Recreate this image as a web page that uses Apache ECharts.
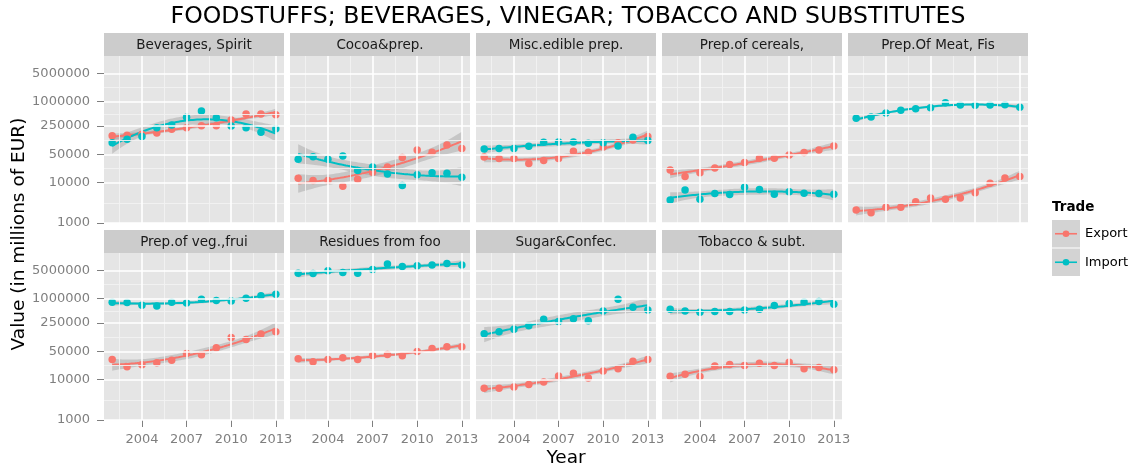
<!DOCTYPE html>
<html>
<head>
<meta charset="utf-8">
<script src="https://cdn.jsdelivr.net/npm/echarts@6/dist/echarts.min.js"></script>
<style>
  html, body { margin: 0; padding: 0; background: #ffffff; }
  #chart { width: 1136px; height: 472px; }
</style>
</head>
<body>
<div id="chart"></div>
<script>
// ---- data -------------------------------------------------------------
const years = [2002, 2003, 2004, 2005, 2006, 2007, 2008, 2009, 2010, 2011, 2012, 2013];
const facetNames = [
  'Beverages, Spirit', 'Cocoa&prep.', 'Misc.edible prep.', 'Prep.of cereals,', 'Prep.Of Meat, Fis',
  'Prep.of veg.,frui', 'Residues from foo', 'Sugar&Confec.', 'Tobacco & subt.'
];
const tradeNames = ['Export', 'Import'];
const yTickValues = [1000, 10000, 50000, 250000, 1000000, 5000000];
const xTickValues = [2004, 2007, 2010, 2013];

const beveragesExport = [144500, 147600, 156000, 168000, 207000, 228000, 255000, 255000, 352000, 496000, 496000, 477000];
const beveragesImport = [97200, 117000, 137000, 228000, 265000, 410000, 589000, 403000, 251000, 228000, 175000, 215000];
const cocoaExport = [12800, 11200, 11200, 8100, 12100, 18000, 24400, 41400, 64100, 56100, 85100, 69200];
const cocoaImport = [37700, 43800, 37700, 45500, 19800, 24400, 16400, 8430, 15500, 17600, 17000, 13500];
const miscExport = [43100, 39200, 39200, 29500, 34900, 39200, 59400, 56100, 76000, 97200, 113000, 137000];
const miscImport = [67800, 69200, 69200, 78900, 99100, 101000, 101000, 93600, 97200, 80400, 132000, 109000];
const cerealsExport = [20500, 14100, 17600, 23000, 27800, 31200, 39900, 39900, 48200, 55100, 64100, 80400];
const cerealsImport = [3730, 6590, 3870, 5350, 5050, 7670, 6720, 5150, 5890, 5460, 5350, 5150];
const meatExport = [2110, 1780, 2460, 2460, 3330, 4180, 3870, 4180, 5560, 9630, 13000, 14100];
const meatImport = [387000, 418000, 525000, 611000, 672000, 711000, 945000, 828000, 812000, 828000, 844000, 725000];
const vegExport = [31400, 20600, 23100, 25900, 30200, 44200, 41000, 61100, 110000, 98400, 134000, 153000];
const vegImport = [817000, 802000, 689000, 663000, 817000, 787000, 971000, 899000, 882000, 1027000, 1175000, 1292000];
const residuesExport = [32600, 27500, 31400, 34500, 31400, 39400, 41800, 38700, 49600, 58900, 64700, 64700];
const residuesImport = [4285000, 4207000, 4900000, 4455000, 4285000, 5284000, 7175000, 6280000, 6525000, 6780000, 7460000, 6780000];
const sugarExport = [6100, 6100, 6580, 7520, 8750, 12300, 14400, 11000, 16400, 18400, 28500, 31400];
const sugarImport = [136000, 153000, 175000, 215000, 309000, 271000, 321000, 286000, 498000, 970000, 614000, 527000];
const tobaccoExport = [12100, 13600, 11900, 21800, 23600, 22300, 25500, 22300, 26900, 18400, 19900, 17400];
const tobaccoImport = [547000, 498000, 461000, 479000, 479000, 527000, 547000, 675000, 757000, 833000, 849000, 729000];

const exportByFacet = [beveragesExport, cocoaExport, miscExport, cerealsExport, meatExport,
  vegExport, residuesExport, sugarExport, tobaccoExport];
const importByFacet = [beveragesImport, cocoaImport, miscImport, cerealsImport, meatImport,
  vegImport, residuesImport, sugarImport, tobaccoImport];

// ---- look & layout ----------------------------------------------------
const FONT = '"DejaVu Sans", "Liberation Sans", sans-serif';
const tradeColors = ['#F8766D', '#00BFC4'];
const panelLefts = [104, 290, 476, 662, 848];
const rowTops = [56, 253];
const panelW = 180, panelH = 167, stripH = 23;
const xMin = 2001.45, xMax = 2013.55;
const logMin = 3, logMax = 7.13;

// ---- quadratic least-squares trend with 95% confidence band -----------
function inv3(m) {
  const [a, b, c] = m[0], [d, e, f] = m[1], [g, h, i] = m[2];
  const A = e * i - f * h, B = -(d * i - f * g), C = d * h - e * g;
  const det = a * A + b * B + c * C;
  return [
    [A / det, -(b * i - c * h) / det, (b * f - c * e) / det],
    [B / det, (a * i - c * g) / det, -(a * f - c * d) / det],
    [C / det, -(a * h - b * g) / det, (a * e - b * d) / det]
  ];
}
function tQuantile975(df) {
  const z = 1.959964;
  const z3 = z ** 3, z5 = z ** 5, z7 = z ** 7, z9 = z ** 9;
  const g1 = (z3 + z) / 4;
  const g2 = (5 * z5 + 16 * z3 + 3 * z) / 96;
  const g3 = (3 * z7 + 19 * z5 + 17 * z3 - 15 * z) / 384;
  const g4 = (79 * z9 + 776 * z7 + 1482 * z5 - 1920 * z3 - 945 * z) / 92160;
  return z + g1 / df + g2 / df ** 2 + g3 / df ** 3 + g4 / df ** 4;
}
function smoothFit(xs, ys, nOut = 80) {
  const n = xs.length;
  const xc = xs.reduce((s, x) => s + x, 0) / n;
  const basis = x => { const d = x - xc; return [1, d, d * d]; };
  const XtX = [[0, 0, 0], [0, 0, 0], [0, 0, 0]], Xty = [0, 0, 0];
  xs.forEach((x, k) => {
    const b = basis(x);
    for (let r = 0; r < 3; r++) {
      Xty[r] += b[r] * ys[k];
      for (let c = 0; c < 3; c++) XtX[r][c] += b[r] * b[c];
    }
  });
  const Inv = inv3(XtX);
  const coef = Inv.map(row => row[0] * Xty[0] + row[1] * Xty[1] + row[2] * Xty[2]);
  const predict = b => coef[0] * b[0] + coef[1] * b[1] + coef[2] * b[2];
  const rss = xs.reduce((s, x, k) => s + (ys[k] - predict(basis(x))) ** 2, 0);
  const df = n - 3;
  const sigma = Math.sqrt(rss / df);
  const tq = tQuantile975(df);
  const lo = Math.min(...xs), hi = Math.max(...xs);
  const out = [];
  for (let s = 0; s < nOut; s++) {
    const x0 = lo + (hi - lo) * s / (nOut - 1);
    const b = basis(x0);
    let q = 0;
    for (let r = 0; r < 3; r++) for (let c = 0; c < 3; c++) q += b[r] * Inv[r][c] * b[c];
    const fit = predict(b);
    const se = sigma * Math.sqrt(q);
    out.push([x0, fit, fit - tq * se, fit + tq * se]);
  }
  return out;
}

// ---- grid lines (major ticks + minor midpoints) -----------------------
function minorBreaks(ticks, lo, hi) {
  const step = ticks[1] - ticks[0];
  const b = ticks.slice();
  if (lo < b[0]) b.unshift(b[0] - step);
  if (hi > b[b.length - 1]) b.push(b[b.length - 1] + step);
  const out = [];
  for (let i = 0; i < b.length - 1; i++) {
    const m = (b[i] + b[i + 1]) / 2;
    if (m > lo && m < hi) out.push(m);
  }
  return out;
}
const yTickLogs = yTickValues.map(v => Math.log10(v));
const xMinor = minorBreaks(xTickValues, xMin, xMax);
const yMinor = minorBreaks(yTickLogs, logMin, logMax);
const minorStyle = { color: '#F2F2F2', width: 0.9, type: 'solid' };
const majorStyle = { color: '#FFFFFF', width: 1.6, type: 'solid' };
const gridLineData = [].concat(
  xMinor.map(v => ({ xAxis: v, lineStyle: minorStyle })),
  yMinor.map(v => ({ yAxis: v, lineStyle: minorStyle })),
  xTickValues.map(v => ({ xAxis: v, lineStyle: majorStyle })),
  yTickLogs.map(v => ({ yAxis: v, lineStyle: majorStyle }))
);

// ---- build panels -----------------------------------------------------
const grids = [], xAxes = [], yAxes = [], series = [], graphics = [];
const axisGrey = '#7F7F7F';

facetNames.forEach((name, k) => {
  const row = k < 5 ? 0 : 1;
  const col = k < 5 ? k : k - 5;
  const left = panelLefts[col], top = rowTops[row];
  const bottomRow = row === 1;
  const leftCol = col === 0;

  grids.push({
    left: left, top: top, width: panelW, height: panelH,
    show: true, backgroundColor: '#E5E5E5', borderWidth: 0, containLabel: false
  });
  xAxes.push({
    gridIndex: k, type: 'value', min: xMin, max: xMax,
    axisLine: { show: false },
    splitLine: { show: false },
    axisTick: { show: bottomRow, length: 7, lineStyle: { color: axisGrey, width: 1 }, customValues: xTickValues },
    axisLabel: {
      show: bottomRow, customValues: xTickValues, margin: 13,
      color: axisGrey, fontSize: 13, fontFamily: FONT,
      formatter: v => String(Math.round(v))
    }
  });
  yAxes.push({
    gridIndex: k, type: 'value', min: logMin, max: logMax,
    axisLine: { show: false },
    splitLine: { show: false },
    axisTick: { show: leftCol, length: 7, lineStyle: { color: axisGrey, width: 1 }, customValues: yTickLogs },
    axisLabel: {
      show: leftCol, customValues: yTickLogs, margin: 14,
      color: axisGrey, fontSize: 13, fontFamily: FONT,
      formatter: v => String(Math.round(Math.pow(10, v)))
    }
  });

  // background grid lines
  series.push({
    type: 'line', xAxisIndex: k, yAxisIndex: k, data: [], z: 1, silent: true,
    markLine: { silent: true, symbol: ['none', 'none'], label: { show: false }, animation: false, data: gridLineData }
  });

  const groups = [exportByFacet[k], importByFacet[k]];
  groups.forEach((vals, g) => {
    const logs = vals.map(v => Math.log10(v));
    const fit = smoothFit(years, logs);
    // confidence band
    series.push({
      type: 'custom', xAxisIndex: k, yAxisIndex: k, z: 2, silent: true, clip: true,
      data: fit.map(p => [p[0], p[2], p[3]]),
      encode: { x: 0, y: [1, 2] },
      renderItem: (params, api) => {
        if (params.dataIndex !== 0) return null;
        const pts = fit.map(p => api.coord([p[0], p[3]]))
          .concat(fit.slice().reverse().map(p => api.coord([p[0], p[2]])));
        return { type: 'polygon', shape: { points: pts }, style: { fill: 'rgba(153,153,153,0.4)' } };
      }
    });
    // fitted trend
    series.push({
      type: 'line', name: tradeNames[g], xAxisIndex: k, yAxisIndex: k, z: 3, silent: true,
      showSymbol: false, smooth: false,
      data: fit.map(p => [p[0], p[1]]),
      lineStyle: { color: tradeColors[g], width: 2 }
    });
    // observations
    series.push({
      type: 'scatter', name: tradeNames[g], xAxisIndex: k, yAxisIndex: k, z: 4,
      symbol: 'circle', symbolSize: 7.5,
      data: years.map((y, i) => [y, logs[i]]),
      itemStyle: { color: tradeColors[g], opacity: 1 }
    });
  });

  // facet strip
  graphics.push({
    type: 'rect', shape: { x: left, y: top - stripH, width: panelW, height: stripH },
    style: { fill: '#CCCCCC' }, silent: true
  });
  graphics.push({
    type: 'text', x: left + panelW / 2, y: top - stripH / 2 + 0.5, silent: true,
    style: { text: name, fill: '#1A1A1A', fontSize: 13.5, fontFamily: FONT, align: 'center', verticalAlign: 'middle' }
  });
});

// axis titles
graphics.push({
  type: 'text', x: 566, y: 458, silent: true,
  style: { text: 'Year', fill: '#000000', fontSize: 18.5, fontFamily: FONT, align: 'center', verticalAlign: 'middle' }
});
graphics.push({
  type: 'text', x: 19, y: 234, rotation: Math.PI / 2, silent: true,
  style: { text: 'Value (in millions of EUR)', fill: '#000000', fontSize: 18.5, fontFamily: FONT, align: 'center', verticalAlign: 'middle' }
});

// legend
graphics.push({
  type: 'text', x: 1052, y: 207, silent: true,
  style: { text: 'Trade', fill: '#000000', fontSize: 13.5, fontWeight: 'bold', fontFamily: FONT, align: 'left', verticalAlign: 'middle' }
});
tradeNames.forEach((t, g) => {
  const ky = 220 + g * 28.5;
  graphics.push({ type: 'rect', shape: { x: 1052, y: ky, width: 28, height: 27.5 }, style: { fill: '#D3D3D3' }, silent: true });
  graphics.push({ type: 'line', shape: { x1: 1055, y1: ky + 13.75, x2: 1077, y2: ky + 13.75 }, style: { stroke: tradeColors[g], lineWidth: 1.6 }, silent: true });
  graphics.push({ type: 'circle', shape: { cx: 1066, cy: ky + 13.75, r: 3.3 }, style: { fill: tradeColors[g] }, silent: true });
  graphics.push({
    type: 'text', x: 1085, y: ky + 14, silent: true,
    style: { text: t, fill: '#000000', fontSize: 13, fontFamily: FONT, align: 'left', verticalAlign: 'middle' }
  });
});

const chart = echarts.init(document.getElementById('chart'), null, { renderer: 'canvas' });
chart.setOption({
  animation: false,
  backgroundColor: '#FFFFFF',
  title: {
    text: 'FOODSTUFFS; BEVERAGES, VINEGAR; TOBACCO AND SUBSTITUTES',
    left: 'center', top: 5, padding: 0,
    textStyle: { fontSize: 23.6, fontWeight: 'normal', color: '#000000', fontFamily: FONT }
  },
  grid: grids,
  xAxis: xAxes,
  yAxis: yAxes,
  series: series,
  graphic: graphics
});
</script>
</body>
</html>
